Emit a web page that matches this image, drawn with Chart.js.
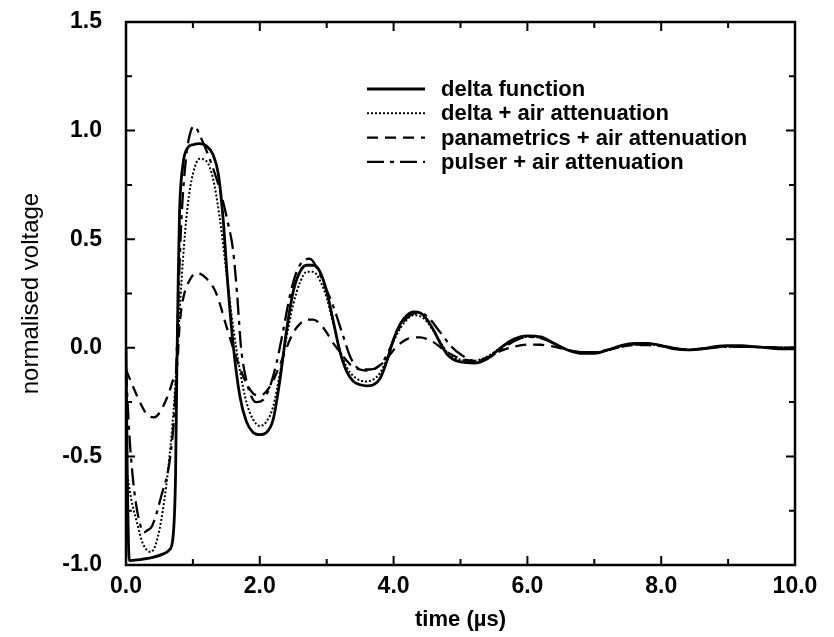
<!DOCTYPE html>
<html>
<head>
<meta charset="utf-8">
<script src="https://cdn.jsdelivr.net/npm/chart.js@4.4.0/dist/chart.umd.min.js"></script>
<style>
  html, body { margin: 0; padding: 0; background: #fff; }
</style>
</head>
<body>
<canvas id="myChart" width="834" height="637"></canvas>
<script>
// time (us) and normalised voltage
var deltaT = [0, 0.02, 0.05, 0.2, 0.4, 0.55, 0.65, 0.7, 0.74, 0.76, 0.78, 0.8, 0.85, 0.92, 1.0, 1.1, 1.2, 1.3, 1.38, 1.45, 1.52, 1.6, 1.7, 1.8, 1.9, 2.0, 2.1, 2.2, 2.3, 2.4, 2.5, 2.6, 2.7, 2.8, 2.9, 3.0, 3.1, 3.2, 3.3, 3.4, 3.5, 3.6, 3.7, 3.8, 3.9, 4.0, 4.1, 4.2, 4.3, 4.4, 4.5, 4.6, 4.7, 4.8, 4.9, 5.0, 5.2, 5.4, 5.6, 5.8, 6.0, 6.2, 6.4, 6.6, 6.8, 7.0, 7.2, 7.4, 7.6, 7.8, 8.0, 8.2, 8.4, 8.6, 8.8, 9.0, 9.2, 9.4, 9.6, 9.8, 10.0];
var deltaV = [0, -0.6, -0.98, -0.975, -0.965, -0.95, -0.93, -0.88, -0.6, -0.1, 0.3, 0.62, 0.84, 0.92, 0.935, 0.94, 0.93, 0.89, 0.8, 0.6, 0.3, 0.02, -0.22, -0.34, -0.39, -0.4, -0.39, -0.33, -0.15, 0.08, 0.26, 0.35, 0.38, 0.38, 0.35, 0.26, 0.12, -0.02, -0.11, -0.155, -0.17, -0.175, -0.17, -0.14, -0.06, 0.04, 0.11, 0.15, 0.165, 0.16, 0.13, 0.08, 0.02, -0.03, -0.055, -0.065, -0.07, -0.05, 0.0, 0.04, 0.055, 0.05, 0.02, -0.01, -0.025, -0.025, -0.01, 0.01, 0.02, 0.02, 0.01, -0.005, -0.01, -0.005, 0.005, 0.01, 0.01, 0.005, 0.0, -0.005, -0.005];

var airT = [0, 0.08, 0.16, 0.25, 0.37, 0.45, 0.55, 0.65, 0.72, 0.78, 0.85, 0.92, 1.0, 1.1, 1.2, 1.3, 1.4, 1.5, 1.6, 1.7, 1.8, 1.9, 2.0, 2.1, 2.2, 2.3, 2.4, 2.5, 2.6, 2.7, 2.8, 2.9, 3.0, 3.1, 3.2, 3.3, 3.4, 3.5, 3.6, 3.7, 3.8, 3.9, 4.0, 4.1, 4.2, 4.3, 4.4, 4.5, 4.6, 4.7, 4.8, 4.9, 5.0, 5.2, 5.4, 5.6, 5.8, 6.0, 6.2, 6.4, 6.6, 6.8, 7.0, 7.2, 7.4, 7.6, 7.8, 8.0, 8.4, 9.0, 10.0];
var airV = [-0.55, -0.7, -0.8, -0.9, -0.94, -0.9, -0.75, -0.5, -0.25, 0.05, 0.4, 0.65, 0.8, 0.87, 0.86, 0.78, 0.6, 0.35, 0.1, -0.1, -0.25, -0.33, -0.36, -0.34, -0.27, -0.12, 0.05, 0.2, 0.3, 0.35, 0.35, 0.31, 0.23, 0.11, -0.01, -0.09, -0.13, -0.15, -0.155, -0.145, -0.115, -0.05, 0.03, 0.09, 0.13, 0.15, 0.145, 0.12, 0.075, 0.025, -0.02, -0.045, -0.055, -0.06, -0.04, 0.0, 0.035, 0.05, 0.045, 0.02, -0.01, -0.02, -0.02, -0.01, 0.005, 0.015, 0.015, 0.01, -0.01, 0.005, 0.0];

var panaT = [0, 0.12, 0.24, 0.32, 0.42, 0.57, 0.69, 0.77, 0.8, 0.85, 0.95, 1.05, 1.2, 1.35, 1.5, 1.6, 1.75, 1.9, 2.0, 2.1, 2.2, 2.3, 2.4, 2.5, 2.6, 2.7, 2.8, 2.9, 3.0, 3.1, 3.2, 3.3, 3.4, 3.5, 3.6, 3.7, 3.8, 3.9, 4.0, 4.1, 4.2, 4.3, 4.4, 4.5, 4.6, 4.8, 5.0, 5.2, 5.4, 5.6, 5.8, 6.0, 6.2, 6.4, 6.6, 6.8, 7.0, 7.2, 7.4, 7.6, 7.8, 8.0, 8.4, 9.0, 10.0];
var panaV = [-0.1, -0.19, -0.27, -0.31, -0.32, -0.26, -0.16, -0.06, 0.1, 0.22, 0.31, 0.345, 0.32, 0.25, 0.1, 0.0, -0.13, -0.21, -0.22, -0.2, -0.15, -0.08, 0.0, 0.07, 0.11, 0.13, 0.13, 0.11, 0.07, 0.02, -0.02, -0.06, -0.09, -0.1, -0.105, -0.1, -0.08, -0.05, -0.01, 0.02, 0.04, 0.048, 0.048, 0.04, 0.025, -0.02, -0.05, -0.06, -0.045, -0.015, 0.005, 0.015, 0.014, 0.005, -0.01, -0.02, -0.02, -0.01, 0.005, 0.012, 0.012, 0.008, -0.008, 0.005, 0.0];

var pulserT = [0, 0.05, 0.12, 0.2, 0.27, 0.32, 0.39, 0.52, 0.67, 0.74, 0.78, 0.83, 0.9, 0.97, 1.03, 1.1, 1.25, 1.42, 1.52, 1.6, 1.66, 1.72, 1.8, 1.9, 1.95, 2.05, 2.15, 2.25, 2.35, 2.45, 2.55, 2.65, 2.75, 2.85, 2.95, 3.1, 3.25, 3.35, 3.45, 3.55, 3.65, 3.75, 3.85, 3.95, 4.05, 4.15, 4.25, 4.35, 4.45, 4.55, 4.65, 4.75, 4.85, 5.0, 5.2, 5.4, 5.6, 5.8, 6.0, 6.2, 6.4, 6.6, 6.8, 7.0, 7.2, 7.4, 7.6, 7.8, 8.0, 8.4, 9.0, 10.0];
var pulserV = [-0.1, -0.4, -0.65, -0.8, -0.85, -0.84, -0.82, -0.69, -0.48, -0.2, 0.2, 0.6, 0.88, 1.0, 1.02, 0.98, 0.87, 0.71, 0.58, 0.45, 0.25, 0.0, -0.15, -0.24, -0.25, -0.24, -0.18, -0.07, 0.08, 0.24, 0.35, 0.4, 0.41, 0.37, 0.3, 0.19, 0.05, -0.04, -0.09, -0.1, -0.1, -0.09, -0.06, 0.0, 0.07, 0.12, 0.15, 0.16, 0.155, 0.13, 0.09, 0.05, 0.01, -0.03, -0.06, -0.05, -0.01, 0.03, 0.05, 0.045, 0.02, -0.01, -0.02, -0.02, -0.01, 0.005, 0.015, 0.015, 0.01, -0.01, 0.005, 0.0];

var seriesNames = ['delta function', 'delta + air attenuation', 'panametrics + air attenuation', 'pulser + air attenuation'];

var xTicks = [0, 2, 4, 6, 8, 10];
var xMinor = [1, 3, 5, 7, 9];
var yTicks = [-1.0, -0.5, 0.0, 0.5, 1.0, 1.5];
var yMinor = [-0.75, -0.25, 0.25, 0.75, 1.25];

function pts(t, v) {
  return t.map(function (x, i) { return { x: x, y: v[i] }; });
}

var fontName = '"Liberation Sans", Arial, Helvetica, sans-serif';

// box round the plot, ticks pointing inward on all four sides, and the legend
var framePlugin = {
  id: 'frame',
  afterDatasetsDraw: function (chart) {
    var c = chart.ctx, a = chart.chartArea;
    var xs = chart.scales.x, ys = chart.scales.y;
    c.save();
    c.strokeStyle = '#000';
    c.lineWidth = 2.5;
    c.strokeRect(a.left, a.top, a.right - a.left, a.bottom - a.top);
    c.lineWidth = 2;
    function tx(v, len) {
      var p = xs.getPixelForValue(v);
      c.beginPath();
      c.moveTo(p, a.bottom); c.lineTo(p, a.bottom - len);
      c.moveTo(p, a.top); c.lineTo(p, a.top + len);
      c.stroke();
    }
    function ty(v, len) {
      var p = ys.getPixelForValue(v);
      c.beginPath();
      c.moveTo(a.left, p); c.lineTo(a.left + len, p);
      c.moveTo(a.right, p); c.lineTo(a.right - len, p);
      c.stroke();
    }
    xTicks.forEach(function (v) { tx(v, 9); });
    xMinor.forEach(function (v) { tx(v, 6); });
    yTicks.forEach(function (v) { ty(v, 9); });
    yMinor.forEach(function (v) { ty(v, 6); });

    // legend
    var lx0 = 367, lx1 = 425, tx0 = 441, y0 = 89, dy = 24.3;
    c.font = 'bold 22px ' + fontName;
    c.textBaseline = 'middle';
    c.fillStyle = '#000';
    chart.data.datasets.forEach(function (ds, i) {
      var y = y0 + i * dy;
      c.save();
      c.lineWidth = ds.borderWidth;
      c.setLineDash(ds.borderDash || []);
      c.beginPath();
      c.moveTo(lx0, y); c.lineTo(lx1, y);
      c.stroke();
      c.restore();
      c.fillText(ds.label, tx0, y + 1);
    });
    c.restore();
  }
};

var ctx = document.getElementById('myChart').getContext('2d');
var myChart = new Chart(ctx, {
  type: 'scatter',
  data: {
    datasets: [{
      label: seriesNames[0],
      data: pts(deltaT, deltaV),
      borderWidth: 2.8,
      borderDash: []
    }, {
      label: seriesNames[1],
      data: pts(airT, airV),
      borderWidth: 2,
      borderDash: [2, 2]
    }, {
      label: seriesNames[2],
      data: pts(panaT, panaV),
      borderWidth: 2.3,
      borderDash: [11, 7]
    }, {
      label: seriesNames[3],
      data: pts(pulserT, pulserV),
      borderWidth: 2.3,
      borderDash: [17, 6, 4, 6]
    }]
  },
  options: {
    responsive: false,
    animation: false,
    showLine: true,
    elements: {
      point: { radius: 0 },
      line: { borderColor: '#000', backgroundColor: '#000', fill: false, tension: 0.4, cubicInterpolationMode: 'monotone' }
    },
    layout: { padding: { top: 22, right: 39, left: 0, bottom: 0 } },
    plugins: {
      legend: { display: false },
      tooltip: { enabled: false }
    },
    scales: {
      x: {
        type: 'linear',
        min: 0,
        max: 10,
        afterFit: function (s) { s.height = 72; s.paddingLeft = 0; s.paddingRight = 0; },
        afterBuildTicks: function (s) { s.ticks = xTicks.map(function (v) { return { value: v }; }); },
        grid: { display: false, drawTicks: false },
        border: { display: false },
        ticks: {
          padding: 8,
          color: '#000',
          font: { family: fontName, size: 23, weight: 'bold' },
          callback: function (v) { return v.toFixed(1); }
        },
        title: {
          display: true,
          text: 'time (\u00b5s)',
          color: '#000',
          padding: { top: 0, bottom: 4 },
          font: { family: fontName, size: 22, weight: 'bold' }
        }
      },
      y: {
        type: 'linear',
        min: -1,
        max: 1.5,
        afterFit: function (s) { s.width = 126; s.paddingTop = 0; s.paddingBottom = 0; },
        afterBuildTicks: function (s) { s.ticks = yTicks.map(function (v) { return { value: v }; }); },
        grid: { display: false, drawTicks: false },
        border: { display: false },
        ticks: {
          padding: 24,
          color: '#000',
          font: { family: fontName, size: 23, weight: 'bold' },
          callback: function (v) { return v.toFixed(1); }
        },
        title: {
          display: true,
          text: 'normalised voltage',
          color: '#000',
          padding: { top: 17, bottom: 0 },
          font: { family: fontName, size: 24, weight: 'normal' }
        }
      }
    }
  },
  plugins: [framePlugin]
});
</script>
</body>
</html>
